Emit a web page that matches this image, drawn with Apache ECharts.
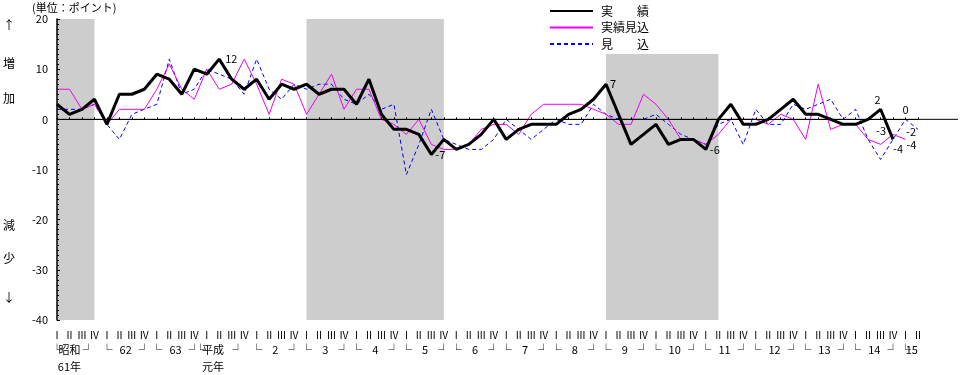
<!DOCTYPE html>
<html><head><meta charset="utf-8">
<script src="https://cdn.jsdelivr.net/npm/echarts@6/dist/echarts.min.js"></script>
<style>html,body{margin:0;padding:0;background:#fff}#c{width:961px;height:375px}</style>
</head><body><div id="c"></div>
<script>
// ---- data ----
const eraLabels = ['昭和\n61年','62','63','平成\n元年','2','3','4','5','6','7','8','9','10','11','12','13','14','15'];
const quarterLabels = ['Ⅰ','Ⅱ','Ⅲ','Ⅳ'];
const quarterCount = 70; // 昭和61年Ⅰ 〜 平成15年Ⅱ
const seriesNames = ['実　　績','実績見込','見　　込'];
const jisseki = [3,1,2,4,-1,5,5,6,9,8, 5,10,9,12,8,6,8,4,7,6, 7,5,6,6,3,8,1,-2,-2,-3,
  -7,-4,-6,-5,-3,0,-4,-2,-1,-1, -1,1,2,4,7,1,-5,-3,-1,-5, -4,-4,-6,0,3,-1,-1,0,2,4,
  1,1,0,-1,-1,0,2,-4,null,null];
const jissekiMikomi = [6,6,2,3,-1,2,2,2,6,11, 6,4,10,6,7,12,7,1,8,7, 1,5,9,2,6,6,0,-1,-3,0,
  -5,-6,-6,-5,-2,-1,-1,-3,1,3, 3,3,3,2,1,-1,-1,5,3,0, -4,-4,-5,-3,0,0,0,-1,1,0,
  -4,7,-2,-1,-1,-4,-5,-3,-4,null];
const mikomi = [2,2,2,3,-1,-4,1,2,3,12, 5,6,10,9,8,5,12,6,4,7, 6,7,7,4,3,5,2,3,-11,-5,
  2,-4,-5,-6,-6,-4,0,-2,-4,-2, 0,-1,-1,3,1,0,0,0,1,-1, -3,-4,-5,-1,0,-5,2,-1,-1,3,
  2,3,4,0,2,-4,-8,-4,0,-2];
const yMin = -40, yMax = 20, yInterval = 10;
// shaded periods: [start quarter index, end quarter index, top value]
const shadedPeriods = [[0,3,20],[20,31,20],[44,53,13]];
// value labels: [quarter index, position, offset]
const labelsJisseki = [[13,'right',[2,0]],[30,'right',[0,0]],[44,'right',[0,0]],[52,'right',[0,0]],[66,'top',[-3,0]],[67,'bottom',[5,0]]];
const labelsJissekiMikomi = [[67,'left',[-3,-4]],[68,'right',[-3,5]]];
const labelsMikomi = [[68,'top',[0,0]],[69,'left',[2,2]]];

// ---- build ----
const FONT = '"Noto Sans CJK JP", "DejaVu Sans", sans-serif';
const categories = [];
for (let i = 0; i < quarterCount; i++) categories.push('q' + i);
// half-step axis for year brackets
const halfCats = [];
for (let h = 0; h < quarterCount * 2 - 1; h++) halfCats.push('h' + h);
const halfText = {};
eraLabels.forEach((lab, k) => {
  let l = 8 * k, m = 8 * k + 3, r = 8 * k + 6;
  if (k === 0) { m = 2; r = 5; }
  if (k === 3) { l = 23; m = 25; r = 29; }
  if (k === eraLabels.length - 1) { l = 8 * k; m = 8 * k + 1; r = -1; }
  halfText[l] = '└';
  halfText[m] = lab;
  if (r >= 0 && r < halfCats.length) halfText[r] = '┘';
});

function withLabels(arr, plan) {
  const map = {};
  plan.forEach(p => map[p[0]] = p);
  return arr.map((v, i) => {
    if (map[i] && v != null) {
      return {value: v, label: {show: true, position: map[i][1], offset: map[i][2], distance: 4,
        color: '#000', fontSize: 11, fontFamily: FONT}};
    }
    return v;
  });
}

const chart = echarts.init(document.getElementById('c'), null, {renderer: 'canvas'});
const lineCommon = {type: 'line', symbol: 'circle', symbolSize: 0, showSymbol: true, showAllSymbol: true,
  animation: false, silent: true, connectNulls: false};
const option = {
  animation: false,
  backgroundColor: '#fff',
  grid: {left: 57, right: 43, top: 19, bottom: 55, containLabel: false},
  legend: {
    orient: 'vertical', left: 549, top: 5, padding: 0, itemWidth: 43, itemHeight: 14, itemGap: 4.5,
    selectedMode: false, data: seriesNames,
    itemStyle: {opacity: 0},
    textStyle: {fontSize: 12, fontFamily: FONT, color: '#000', padding: [0, 0, 0, 3]}
  },
  xAxis: [{
    type: 'category', data: categories, boundaryGap: false, gridIndex: 0, z: 10,
    axisLine: {show: true, lineStyle: {color: '#000', width: 1}},
    axisTick: {show: true, inside: true, length: 2, interval: 0, lineStyle: {color: '#000'}},
    axisLabel: {interval: 0, margin: 9, fontSize: 10, lineHeight: 12, color: '#000', fontFamily: FONT,
      formatter: (v, i) => quarterLabels[i % 4]},
    splitLine: {show: false}
  }, {
    type: 'category', data: halfCats, boundaryGap: false, gridIndex: 0, position: 'bottom', offset: 13,
    axisLine: {show: false}, axisTick: {show: false}, splitLine: {show: false},
    axisLabel: {interval: 0, margin: 8, fontSize: 11, lineHeight: 17, color: '#000', fontFamily: FONT,
      formatter: (v, i) => halfText[i] || ''}
  }],
  yAxis: {
    type: 'value', min: yMin, max: yMax, interval: yInterval, z: 10,
    axisLine: {show: true, lineStyle: {color: '#000', width: 1.5}},
    axisTick: {show: true, inside: true, length: 3, lineStyle: {color: '#000'}},
    minorTick: {show: true, splitNumber: 10, length: 2, lineStyle: {color: '#000'}},
    axisLabel: {margin: 9, fontSize: 11, color: '#000', fontFamily: FONT},
    splitLine: {show: false}
  },
  series: [{
    type: 'line', name: 'shade', data: [], z: 1, silent: true, xAxisIndex: 0,
    markArea: {silent: true, itemStyle: {color: '#cdcdcd', opacity: 1, borderWidth: 0},
      data: shadedPeriods.map(p => [{xAxis: p[0], yAxis: p[2]}, {xAxis: p[1], yAxis: yMin}])}
  }, Object.assign({}, lineCommon, {
    name: seriesNames[2], z: 3, data: withLabels(mikomi, labelsMikomi),
    itemStyle: {color: '#0000ff'},
    lineStyle: {color: '#0000ff', width: 1, type: [4, 3]}
  }), Object.assign({}, lineCommon, {
    name: seriesNames[1], z: 4, data: withLabels(jissekiMikomi, labelsJissekiMikomi),
    itemStyle: {color: '#f000f0'},
    lineStyle: {color: '#f000f0', width: 1}
  }), Object.assign({}, lineCommon, {
    name: seriesNames[0], z: 5, data: withLabels(jisseki, labelsJisseki),
    itemStyle: {color: '#000'},
    lineStyle: {color: '#000', width: 3}
  })]
};
chart.setOption(option);

const y0 = chart.convertToPixel({yAxisIndex: 0}, 0);
const x0 = chart.convertToPixel({xAxisIndex: 0}, 0);
const sideText = [['↑', 25], ['増', 63], ['加', 98], ['減', 225], ['少', 258], ['↓', 297]];
const graphics = [{
  type: 'line', z: 2, silent: true,
  shape: {x1: x0, y1: y0, x2: chart.getWidth() - 3, y2: y0},
  style: {stroke: '#000', lineWidth: 1}
}, {
  type: 'text', left: 32, top: 2, silent: true,
  style: {text: '(単位：ポイント)', fontSize: 11, fontFamily: FONT, fill: '#000'}
}];
sideText.forEach(t => graphics.push({
  type: 'text', x: 9, y: t[1], silent: true,
  style: {text: t[0], fontSize: 12, fontFamily: FONT, fill: '#000', align: 'center', verticalAlign: 'middle'}
}));
chart.setOption({graphic: graphics});
</script></body></html>
